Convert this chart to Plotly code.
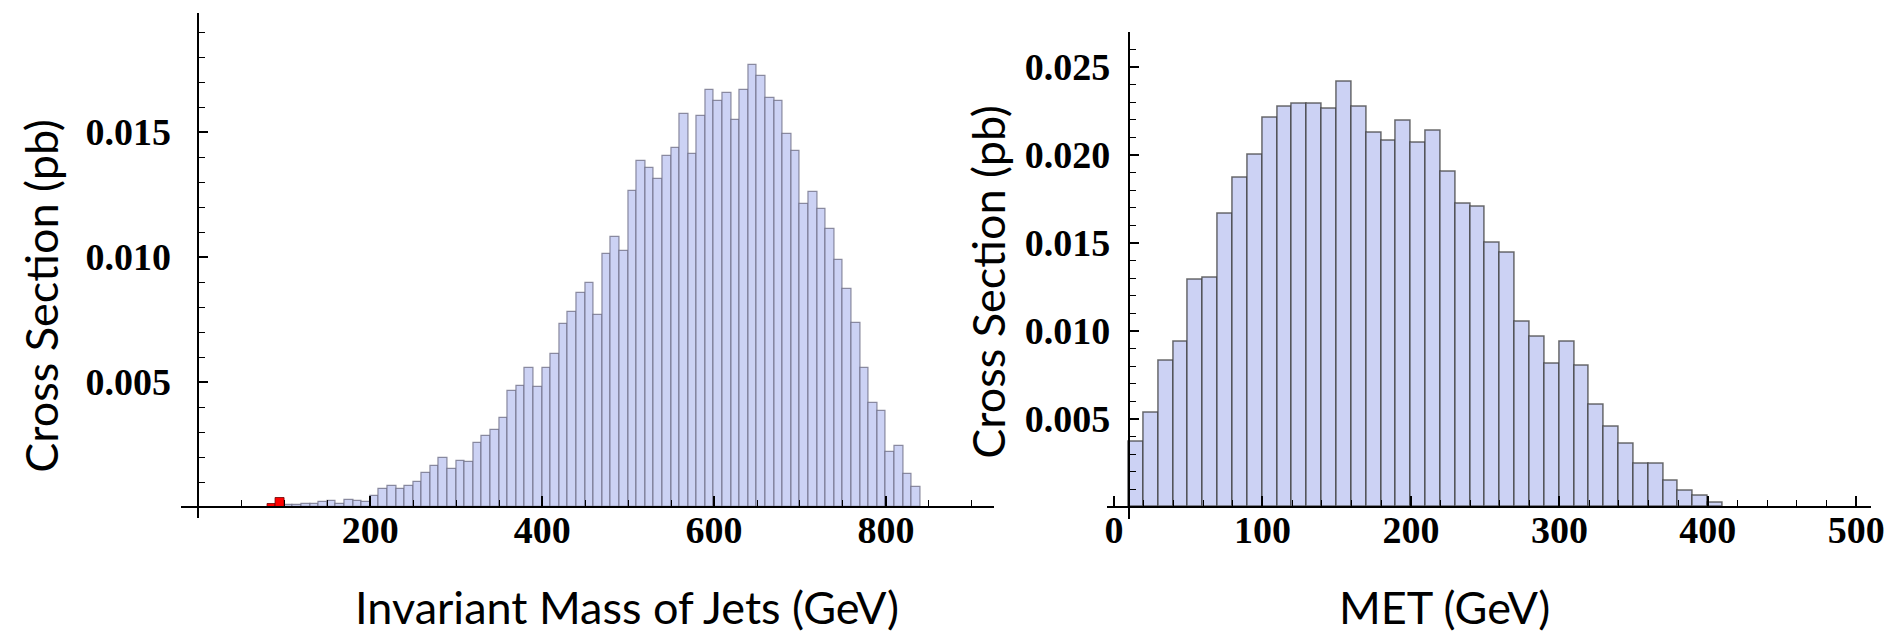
import plotly.graph_objects as go

W, H = 1899, 633

# ---------------- data ----------------
BIN_W = 10
mass_bin_lo = list(range(100, 840, 10))
mass_xsec = [
    0.00010, 0.00010, 0.00012, 0.00012, 0.00020, 0.00024, 0.00014, 0.00030, 0.00024, 0.00020,
    0.00043, 0.00074, 0.00084, 0.00074, 0.00084, 0.00102, 0.00135, 0.00163, 0.00195, 0.00152,
    0.00185, 0.00180, 0.00256, 0.00284, 0.00308, 0.00358, 0.00464, 0.00486, 0.00557, 0.00479,
    0.00557, 0.00614, 0.00734, 0.00780, 0.00858, 0.00898, 0.00767, 0.01011, 0.01082, 0.01023,
    0.01263, 0.01384, 0.01355, 0.01314, 0.01405, 0.01438, 0.01572, 0.01413, 0.01565, 0.01668,
    0.01626, 0.01655, 0.01547, 0.01668, 0.01769, 0.01726, 0.01636, 0.01626, 0.01494, 0.01426,
    0.01213, 0.01260, 0.01193, 0.01111, 0.00990, 0.00872, 0.00737, 0.00557, 0.00415, 0.00386,
    0.00220, 0.00244, 0.00131, 0.00081,
]
signal_bin_lo = [80, 90]
signal_xsec = [0.00014, 0.00036]

met_bin_lo = list(range(10, 410, 10))
met_xsec = [
    0.00371, 0.00537, 0.00831, 0.00939, 0.01290, 0.01302, 0.01667, 0.01873, 0.02000, 0.02214,
    0.02276, 0.02292, 0.02292, 0.02261, 0.02414, 0.02276, 0.02127, 0.02082, 0.02194, 0.02071,
    0.02137, 0.01902, 0.01720, 0.01704, 0.01500, 0.01443, 0.01051, 0.00969, 0.00816, 0.00939,
    0.00802, 0.00582, 0.00455, 0.00357, 0.00245, 0.00245, 0.00147, 0.00092, 0.00065, 0.00024,
]

mass_ticks = [200, 400, 600, 800]
mass_ytick = [0.005, 0.010, 0.015]
mass_ytick_text = ["0.005", "0.010", "0.015"]
met_ticks = [0, 100, 200, 300, 400, 500]
met_ytick = [0.005, 0.010, 0.015, 0.020, 0.025]
met_ytick_text = ["0.005", "0.010", "0.015", "0.020", "0.025"]

x_title_left = "Invariant Mass of Jets (GeV)"
x_title_right = "MET (GeV)"
y_title = "Cross Section (pb)"

# ---------------- helpers ----------------
def fx(px):
    return px / W

def fy(py):
    return 1 - py / H

def centers(lo):
    return [v + BIN_W / 2 for v in lo]

FILL = "#CCD2F4"
tickfont = dict(family="Liberation Serif", size=38, color="black", weight="bold")
titlefont = dict(family="Lato", size=45, color="black")

fig = go.Figure()
fig.add_trace(go.Bar(x=centers(mass_bin_lo), y=mass_xsec, width=BIN_W,
                     marker=dict(color=FILL, line=dict(color="rgba(105,105,130,0.75)", width=1.2)),
                     xaxis="x", yaxis="y"))
fig.add_trace(go.Bar(x=centers(signal_bin_lo), y=signal_xsec, width=BIN_W,
                     marker=dict(color="#FF0000", line=dict(color="rgba(110,0,0,0.8)", width=1.0)),
                     xaxis="x", yaxis="y"))
fig.add_trace(go.Bar(x=centers(met_bin_lo), y=met_xsec, width=BIN_W,
                     marker=dict(color=FILL, line=dict(color="rgba(60,60,60,0.75)", width=1.5)),
                     xaxis="x2", yaxis="y2"))

axis_common = dict(showline=True, linecolor="black", linewidth=1.6, ticks="inside",
                   tickcolor="black", tickwidth=1.6, showgrid=False, zeroline=False,
                   tickfont=tickfont, fixedrange=True)

# left chart geometry (px)
L_x0, L_slope = 190.0, 0.8667
L_left, L_right = 172, 992
L_base, L_top, L_bot, L_ppu = 499, 5, 510, 25000.0
# right chart geometry (px)
R_x0, R_slope = 1113.3, 1.4975
R_left, R_right = 1106, 1877
R_base, R_ppu = 499, 17600.0
R_top = R_base - 0.027 * R_ppu
R_bot = R_base + 12

fig.update_layout(
    width=W, height=H, margin=dict(l=0, r=0, t=0, b=0), autosize=False,
    paper_bgcolor="white", plot_bgcolor="white", showlegend=False,
    barmode="overlay", bargap=0,
    xaxis=dict(axis_common, domain=[fx(L_left), fx(L_right)],
               range=[(L_left - L_x0) / L_slope, (L_right - L_x0) / L_slope],
               anchor="free", position=fy(L_base),
               tickvals=mass_ticks, ticklen=10, ticklabelstandoff=-10,
               minor=dict(dtick=50, tick0=0, ticklen=6, ticks="inside", tickcolor="black", tickwidth=1.4)),
    yaxis=dict(axis_common, domain=[fy(L_bot), fy(L_top)],
               range=[-(L_bot - L_base) / L_ppu, (L_base - L_top) / L_ppu],
               anchor="free", position=fx(L_x0),
               tickvals=mass_ytick, ticktext=mass_ytick_text, ticklen=9, ticklabelstandoff=19,
               minor=dict(dtick=0.001, tick0=0, ticklen=6, ticks="inside", tickcolor="black", tickwidth=1.4)),
    xaxis2=dict(axis_common, domain=[fx(R_left), fx(R_right)],
                range=[(R_left - R_x0) / R_slope, (R_right - R_x0) / R_slope],
                anchor="free", position=fy(R_base),
                tickvals=met_ticks, ticklen=10, ticklabelstandoff=-10,
                minor=dict(dtick=20, tick0=0, ticklen=6, ticks="inside", tickcolor="black", tickwidth=1.4)),
    yaxis2=dict(axis_common, domain=[fy(R_bot), fy(R_top)],
                range=[-(R_bot - R_base) / R_ppu, (R_base - R_top) / R_ppu],
                anchor="free", position=fx(R_x0 + 10 * R_slope),
                tickvals=met_ytick, ticktext=met_ytick_text, ticklen=9, ticklabelstandoff=10,
                minor=dict(dtick=0.001, tick0=0, ticklen=6, ticks="inside", tickcolor="black", tickwidth=1.4)),
)

annots = [
    dict(text=y_title, x=fx(31), y=fy(288), textangle=-90),
    dict(text=y_title, x=fx(986), y=fy(274), textangle=-90),
    dict(text=x_title_left, x=fx(622), y=fy(599)),
    dict(text=x_title_right, x=fx(1447), y=fy(599)),
]
for a in annots:
    fig.add_annotation(xref="paper", yref="paper", showarrow=False, xanchor="center",
                       yanchor="middle", font=titlefont, **a)

fig.write_html("out.html")
